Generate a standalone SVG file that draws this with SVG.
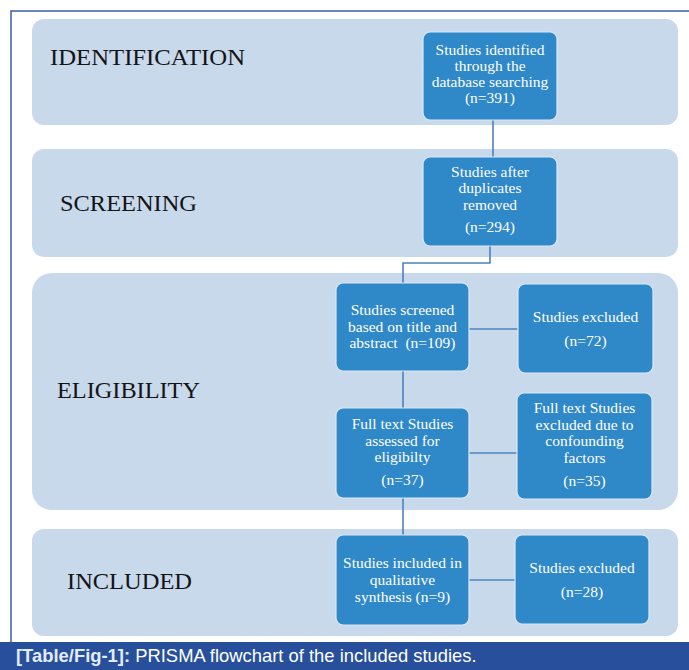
<svg xmlns="http://www.w3.org/2000/svg" width="689" height="670" viewBox="0 0 689 670">
<style>
.band{fill:#c9d9ec;}
.box{fill:#2f88c8;stroke:#dce8f5;stroke-width:1.2;}
.lbl{font-family:"Liberation Serif","Times New Roman",serif;font-size:23px;fill:#141414;}
.bt{font-family:"Liberation Serif","Times New Roman",serif;font-size:15.5px;fill:#ffffff;text-anchor:middle;}
.con{fill:none;stroke:#4a83c0;stroke-width:1.6;}
</style>
<rect x="0" y="0" width="689" height="670" fill="#ffffff"/>
<g id="frame">
<path d="M11 643 V11 H689" fill="none" stroke="#3a5cab" stroke-width="1.5"/>
</g>
<g id="bands">
<rect class="band" x="32" y="19" width="646" height="106" rx="12"/>
<rect class="band" x="32" y="149" width="646" height="108" rx="12"/>
<rect class="band" x="32" y="273" width="646" height="237" rx="20"/>
<rect class="band" x="32" y="529" width="646" height="107" rx="12"/>
<text class="lbl" x="50" y="65" textLength="195" lengthAdjust="spacingAndGlyphs">IDENTIFICATION</text>
<text class="lbl" x="60" y="211" textLength="137" lengthAdjust="spacingAndGlyphs">SCREENING</text>
<text class="lbl" x="57" y="398" textLength="143" lengthAdjust="spacingAndGlyphs">ELIGIBILITY</text>
<text class="lbl" x="67" y="589" textLength="125" lengthAdjust="spacingAndGlyphs">INCLUDED</text>
</g>
<g id="connectors">
<path class="con" d="M493 120 V157"/>
<path class="con" d="M490 246 V263 H403 V283"/>
<path class="con" d="M469 329 H518"/>
<path class="con" d="M403 371 V408"/>
<path class="con" d="M469 453 H517"/>
<path class="con" d="M403 498 V535"/>
<path class="con" d="M469 580 H515"/>
</g>
<g id="n1">
<rect class="box" x="423" y="32" width="134" height="88" rx="7"/>
<text class="bt" x="490" y="55">Studies identified</text>
<text class="bt" x="490" y="71">through the</text>
<text class="bt" x="490" y="87">database searching</text>
<text class="bt" x="490" y="103">(n=391)</text>
</g>
<g id="n2">
<rect class="box" x="423" y="157" width="134" height="89" rx="7"/>
<text class="bt" x="490" y="177">Studies after</text>
<text class="bt" x="490" y="193">duplicates</text>
<text class="bt" x="490" y="210">removed</text>
<text class="bt" x="490" y="232">(n=294)</text>
</g>
<g id="n3">
<rect class="box" x="336" y="283" width="133" height="88" rx="7"/>
<text class="bt" x="402.5" y="315">Studies screened</text>
<text class="bt" x="402.5" y="332">based on title and</text>
<text class="bt" x="402.5" y="348" xml:space="preserve">abstract  (n=109)</text>
</g>
<g id="n4">
<rect class="box" x="518" y="284" width="135" height="89" rx="7"/>
<text class="bt" x="585.5" y="322">Studies excluded</text>
<text class="bt" x="585.5" y="346">(n=72)</text>
</g>
<g id="n5">
<rect class="box" x="336" y="408" width="133" height="90" rx="7"/>
<text class="bt" x="402.5" y="429">Full text Studies</text>
<text class="bt" x="402.5" y="446">assessed for</text>
<text class="bt" x="402.5" y="462">eligibilty</text>
<text class="bt" x="402.5" y="485">(n=37)</text>
</g>
<g id="n6">
<rect class="box" x="517" y="393" width="135" height="106" rx="7"/>
<text class="bt" x="584.5" y="413">Full text Studies</text>
<text class="bt" x="584.5" y="430">excluded due to</text>
<text class="bt" x="584.5" y="446">confounding</text>
<text class="bt" x="584.5" y="463">factors</text>
<text class="bt" x="584.5" y="486">(n=35)</text>
</g>
<g id="n7">
<rect class="box" x="336" y="535" width="133" height="90" rx="7"/>
<text class="bt" x="402.5" y="568">Studies included in</text>
<text class="bt" x="402.5" y="585">qualitative</text>
<text class="bt" x="402.5" y="602">synthesis (n=9)</text>
</g>
<g id="n8">
<rect class="box" x="515" y="535" width="134" height="89" rx="7"/>
<text class="bt" x="582" y="573">Studies excluded</text>
<text class="bt" x="582" y="597">(n=28)</text>
</g>
<g id="caption">
<rect x="0" y="642" width="689" height="28" fill="#274f9c"/>
<text x="16" y="662" font-family="'Liberation Sans',Arial,sans-serif" font-size="18.4" fill="#ffffff"><tspan font-weight="bold" fill="#e3ecf8">[Table/Fig-1]:</tspan> PRISMA flowchart of the included studies.</text>
</g>
</svg>
